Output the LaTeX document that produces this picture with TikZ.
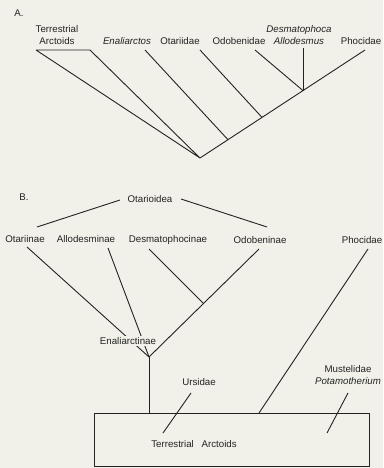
\documentclass[tikz,border=0pt]{standalone}
\usepackage{fontspec}
\setmainfont{Liberation Sans}
\definecolor{bg}{RGB}{241,241,233}
\definecolor{ink}{RGB}{35,35,35}
\begin{document}
\begin{tikzpicture}[x=1pt,y=-1pt,
  lbl/.style={inner sep=0pt,font=\fontsize{9.7}{11.5}\selectfont,text=ink},
  ln/.style={draw=ink,line width=0.9pt}]
\fill[bg] (0,0) rectangle (383,468);
\useasboundingbox (0,0) rectangle (383,468);
% ---------- Panel A ----------
\node[lbl] (labA) at (19,13) {A.};
\node[lbl,align=center] (ta) at (57,35) {Terrestrial\\Arctoids};
\node[lbl] (ena) at (127,41) {\itshape Enaliarctos};
\node[lbl] (ota) at (180,41) {Otariidae};
\node[lbl] (odo) at (239,41) {Odobenidae};
\node[lbl,align=center] (des) at (299,35) {\itshape Desmatophoca\\\itshape Allodesmus};
\node[lbl] (pho) at (361,41) {Phocidae};
\coordinate (root) at (200,158);
\coordinate (t1) at (36,50);
\coordinate (t2) at (90,50);
\coordinate (e1) at (145,50);
\coordinate (e2) at (228,139.7);
\coordinate (o1) at (200,50);
\coordinate (o2) at (262,117.4);
\coordinate (d1) at (255,50);
\coordinate (d2) at (303,90.6);
\coordinate (a1) at (303,48);
\coordinate (p1) at (365,50);
\draw[ln] (t1) -- (root) -- (t2) -- (t1);
\draw[ln] (e1) -- (e2);
\draw[ln] (o1) -- (o2);
\draw[ln] (d1) -- (d2);
\draw[ln] (a1) -- (d2);
\draw[ln] (p1) -- (root);
% ---------- Panel B ----------
\node[lbl] (labB) at (24,197) {B.};
\node[lbl] (otd) at (150,199) {Otarioidea};
\node[lbl] (otn) at (25,239) {Otariinae};
\node[lbl] (all) at (86,239) {Allodesminae};
\node[lbl] (dsm) at (168,240) {Desmatophocinae};
\node[lbl] (odn) at (260,240) {Odobeninae};
\node[lbl] (phb) at (362,240) {Phocidae};
\node[lbl] (urs) at (199,382) {Ursidae};
\node[lbl,align=center] (mus) at (348,375) {Mustelidae\\\itshape Potamotherium};
\coordinate (bx1) at (94,413);
\coordinate (bx2) at (369,466.5);
\draw[ln] (bx1) rectangle (bx2);
\node[lbl] (tab) at (194,444) {Terrestrial\hspace{0.8em}Arctoids};
\coordinate (od1) at (37,227);
\coordinate (od2) at (120,200);
\coordinate (od3) at (181,199);
\coordinate (od4) at (267,227);
\draw[ln] (od1) -- (od2);
\draw[ln] (od3) -- (od4);
\coordinate (y) at (149,357);
\coordinate (ys) at (149,413);
\coordinate (on1) at (27,247);
\coordinate (al1) at (108,248);
\coordinate (ds1) at (149,249);
\coordinate (ds2) at (203.5,303.5);
\coordinate (ob1) at (259,249);
\draw[ln] (on1) -- (y);
\draw[ln] (al1) -- (y);
\draw[ln] (ob1) -- (y);
\draw[ln] (ds1) -- (ds2);
\draw[ln] (y) -- (ys);
\node[lbl,fill=bg,inner sep=1pt] (enl) at (128,341) {Enaliarctinae};
\coordinate (ph1) at (368,249);
\coordinate (ph2) at (259,413);
\draw[ln] (ph1) -- (ph2);
\coordinate (u1) at (191,393);
\coordinate (u2) at (163,433);
\draw[ln] (u1) -- (u2);
\coordinate (m1) at (348,393);
\coordinate (m2) at (327,433);
\draw[ln] (m1) -- (m2);
\end{tikzpicture}
\end{document}
